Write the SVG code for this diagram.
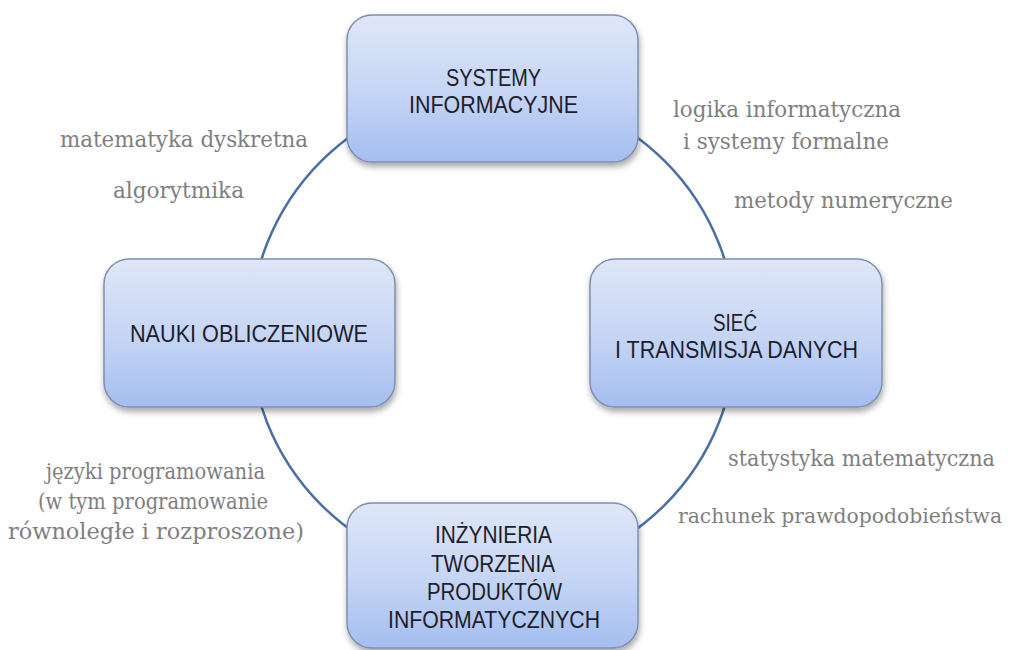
<svg xmlns="http://www.w3.org/2000/svg" width="1024" height="650" viewBox="0 0 1024 650">
  <style>
    .box { fill: url(#boxFill); stroke: #7d8fae; stroke-width: 1.5; filter: url(#shadow); }
    .title { font-family: "Liberation Sans", Arial, sans-serif; font-size: 24px; fill: #1d1d2b; }
    .note { font-family: "DejaVu Serif", "Liberation Serif", serif; font-size: 22px; fill: #7f7f7f; }
    .note.long { font-size: 20px; }
    .ring { fill: none; stroke: #4a6ea6; stroke-width: 2.5; }
  </style>
  <defs>
    <linearGradient id="boxFill" x1="0" y1="0" x2="0" y2="1">
      <stop offset="0" stop-color="#dfe7f8"/>
      <stop offset="0.5" stop-color="#c7d6f5"/>
      <stop offset="1" stop-color="#a4bef0"/>
    </linearGradient>
    <filter id="shadow" x="-10%" y="-10%" width="125%" height="130%">
      <feGaussianBlur in="SourceAlpha" stdDeviation="3"/>
      <feOffset dx="1" dy="4" result="blur"/>
      <feComponentTransfer><feFuncA type="linear" slope="0.35"/></feComponentTransfer>
      <feMerge><feMergeNode/><feMergeNode in="SourceGraphic"/></feMerge>
    </filter>
  </defs>

  <rect width="1024" height="650" fill="#ffffff"/>

  <!-- ring joining the four areas -->
  <g id="connectors">
    <circle class="ring" cx="493" cy="333" r="243"/>
  </g>

  <g id="node-systemy">
    <rect class="box" x="347" y="15" width="291" height="147" rx="25"/>
    <text class="title" x="446" y="86" textLength="95" lengthAdjust="spacingAndGlyphs">SYSTEMY</text>
    <text class="title" x="409" y="113" textLength="169" lengthAdjust="spacingAndGlyphs">INFORMACYJNE</text>
  </g>

  <g id="node-nauki">
    <rect class="box" x="104" y="259" width="291" height="148" rx="25"/>
    <text class="title" x="130" y="342" textLength="238" lengthAdjust="spacingAndGlyphs">NAUKI OBLICZENIOWE</text>
  </g>

  <g id="node-siec">
    <rect class="box" x="590" y="259" width="292" height="148" rx="25"/>
    <text class="title" x="713" y="331" textLength="44" lengthAdjust="spacingAndGlyphs">SIEĆ</text>
    <text class="title" x="615" y="358" textLength="243" lengthAdjust="spacingAndGlyphs">I TRANSMISJA DANYCH</text>
  </g>

  <g id="node-inzynieria">
    <rect class="box" x="347" y="503" width="291" height="145" rx="25"/>
    <text class="title" x="435" y="543" textLength="117" lengthAdjust="spacingAndGlyphs">INŻYNIERIA</text>
    <text class="title" x="431" y="572" textLength="124" lengthAdjust="spacingAndGlyphs">TWORZENIA</text>
    <text class="title" x="427" y="600" textLength="135" lengthAdjust="spacingAndGlyphs">PRODUKTÓW</text>
    <text class="title" x="388" y="628" textLength="212" lengthAdjust="spacingAndGlyphs">INFORMATYCZNYCH</text>
  </g>

  <!-- subject notes around the ring -->
  <g id="notes">
    <text class="note" x="60" y="147" textLength="248" lengthAdjust="spacingAndGlyphs">matematyka dyskretna</text>
    <text class="note" x="113" y="198" textLength="131" lengthAdjust="spacingAndGlyphs">algorytmika</text>
    <text class="note" x="673" y="117" textLength="228" lengthAdjust="spacingAndGlyphs">logika informatyczna</text>
    <text class="note" x="683" y="149" textLength="206" lengthAdjust="spacingAndGlyphs">i systemy formalne</text>
    <text class="note" x="734" y="208" textLength="219" lengthAdjust="spacingAndGlyphs">metody numeryczne</text>
    <text class="note" x="728" y="466" textLength="267" lengthAdjust="spacingAndGlyphs">statystyka matematyczna</text>
    <text class="note long" x="678" y="523" textLength="324" lengthAdjust="spacingAndGlyphs">rachunek prawdopodobieństwa</text>
    <text class="note" x="46" y="479" textLength="219" lengthAdjust="spacingAndGlyphs">języki programowania</text>
    <text class="note" x="38" y="509" textLength="230" lengthAdjust="spacingAndGlyphs">(w tym programowanie</text>
    <text class="note" x="8" y="539" textLength="296" lengthAdjust="spacingAndGlyphs">równoległe i rozproszone)</text>
  </g>
</svg>
